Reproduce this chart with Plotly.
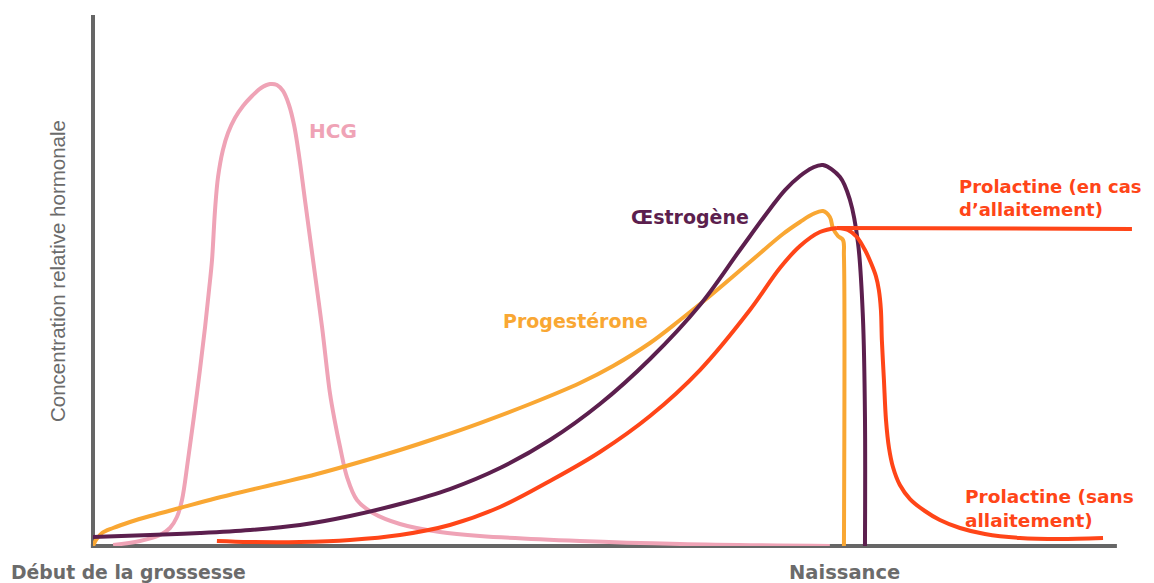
import plotly.graph_objects as go

# x: semaines de grossesse (naissance = 40), y: concentration relative (%)
hcg_x = [1.07, 2.50, 3.57, 4.10, 4.47, 4.74, 5.06, 5.54, 5.97, 6.18, 6.34, 6.50, 6.66, 6.92, 7.19, 7.56, 7.99,
         8.47, 8.95, 9.43, 9.80, 10.12, 10.44, 10.71, 10.97, 11.29, 11.72, 12.20, 12.62, 12.89, 13.16, 13.53,
         14.06, 14.91, 16.35, 18.48, 20.61, 25.94, 31.27, 39.25]
hcg_y = [0.19, 0.94, 2.07, 3.39, 5.46, 8.66, 16.20, 28.81, 41.24, 48.21, 53.86, 63.28, 69.49, 74.58, 77.78,
         80.60, 82.86, 84.75, 86.25, 87.00, 86.82, 85.69, 83.05, 79.28, 73.63, 65.16, 53.86, 41.24, 28.81,
         23.35, 18.64, 12.99, 8.66, 6.21, 4.14, 2.64, 1.88, 0.94, 0.38, 0.0]

prog_x = [0.0, 0.16, 0.48, 1.07, 1.97, 3.04, 4.63, 7.46, 9.96, 11.93, 14.22, 16.35, 18.48, 20.61, 23.28,
          25.94, 27.70, 29.67, 31.27, 32.86, 34.99, 36.75, 37.66, 38.35, 38.88, 39.25, 39.41, 39.68,
          39.95, 40.0, 40.0]
prog_y = [0.0, 1.13, 2.45, 3.39, 4.52, 5.65, 7.16, 9.79, 11.86, 13.56, 15.82, 18.08, 20.53, 23.16, 26.74,
          30.70, 33.90, 38.23, 42.56, 47.08, 53.48, 58.76, 61.02, 62.52, 63.09, 61.96, 59.89, 58.38,
          57.63, 54.61, 0.0]

oestro_x = [0.0, 3.04, 5.70, 8.36, 11.03, 13.69, 16.35, 19.01, 21.68, 24.34, 27.00, 29.67, 32.33, 34.46,
            36.06, 36.86, 37.66, 38.30, 38.88, 39.79, 40.32, 40.75, 41.01, 41.12, 41.12]
oestro_y = [1.69, 2.07, 2.45, 3.01, 3.95, 5.65, 7.91, 10.73, 14.69, 19.96, 26.74, 35.22, 45.39, 55.74,
            63.47, 67.04, 69.68, 71.19, 71.75, 69.49, 65.16, 57.06, 43.13, 24.29, 0.0]

prl_x = [6.60, 8.36, 11.03, 13.69, 16.35, 19.01, 21.68, 24.34, 27.00, 29.67, 32.33, 34.99, 36.59, 37.66,
         38.72, 39.63]
prl_y = [0.94, 0.75, 0.75, 1.13, 2.07, 3.95, 7.34, 12.24, 17.70, 24.48, 33.14, 44.44, 52.35, 56.50,
         59.13, 59.89]

prl_allait_x = [39.63, 55.34]
prl_allait_y = [59.89, 59.70]

prl_sans_x = [39.63, 40.21, 40.69, 41.12, 41.44, 41.70, 41.86, 41.97, 42.02, 42.13, 42.24, 42.40, 42.61,
              42.98, 43.52, 44.31, 45.11, 46.18, 47.51, 49.37, 51.50, 53.80]
prl_sans_y = [59.89, 59.51, 58.19, 55.74, 53.29, 50.85, 48.21, 44.44, 38.79, 31.26, 23.73, 18.46, 14.88,
              11.49, 8.85, 6.59, 4.90, 3.39, 2.26, 1.51, 1.32, 1.51]

PINK = "#EFA3B6"
ORANGE = "#F9A733"
PURPLE = "#5C1F4E"
RED = "#FF4518"
GRAY = "#666666"
TXT_GRAY = "#6B6B6B"

fig = go.Figure()

def add(x, y, color, smooth=1.0, shape="spline"):
    fig.add_trace(go.Scatter(x=x, y=y, mode="lines",
                             line=dict(color=color, width=4, shape=shape, smoothing=smooth),
                             hoverinfo="skip", showlegend=False))

add(hcg_x, hcg_y, PINK, 1.0)
add(prog_x, prog_y, ORANGE, 1.0)
add(oestro_x, oestro_y, PURPLE, 1.0)
add(prl_x, prl_y, RED, 1.0)
add(prl_allait_x, prl_allait_y, RED, shape="linear")
add(prl_sans_x, prl_sans_y, RED, 0.9)

XMAX = 55.77
X_AXIS_END = 54.54 / XMAX

# axis lines
fig.add_shape(type="line", xref="paper", yref="paper", x0=-0.002, x1=X_AXIS_END, y0=0, y1=0,
              line=dict(color=GRAY, width=4), layer="below")
fig.add_shape(type="line", xref="paper", yref="paper", x0=0, x1=0, y0=0, y1=1,
              line=dict(color=GRAY, width=4), layer="below")

BOLD = "DejaVu Sans, Verdana, sans-serif"

def ann(text, x, y, color, size=18, xanchor="center", align="center"):
    fig.add_annotation(x=x, y=y, xref="paper", yref="paper", text=text, showarrow=False,
                       xanchor=xanchor, yanchor="middle", align=align,
                       font=dict(family=BOLD, size=size, color=color))

ann("<b>HCG</b>", 0.2292, 0.7815, PINK, 20)
ann("<b>Œstrogène</b>", 0.5702, 0.6196, PURPLE, 19)
ann("<b>Progestérone</b>", 0.4604, 0.4237, ORANGE, 19)
ann("<b>Prolactine (en cas<br>d’allaitement)</b>", 0.8252, 0.6563, RED, 18, xanchor="left", align="left")
ann("<b>Prolactine (sans<br>allaitement)</b>", 0.8309, 0.0706, RED, 18.5, xanchor="left", align="left")
ann("<b>Début de la grossesse</b>", 0.0335, -0.0508, TXT_GRAY, 18.8)
ann("<b>Naissance</b>", 0.7173, -0.0508, TXT_GRAY, 19.5)

fig.add_annotation(x=-0.0334, y=0.5179, xref="paper", yref="paper", text="Concentration relative hormonale",
                   textangle=-90, showarrow=False, xanchor="center", yanchor="middle",
                   font=dict(family="Liberation Sans, Arial, sans-serif", size=20.5, color=TXT_GRAY))

fig.update_layout(
    width=1146, height=575,
    margin=dict(l=85, r=14, t=7, b=37),
    paper_bgcolor="white", plot_bgcolor="white",
    xaxis=dict(range=[0, XMAX], showgrid=False, zeroline=False, showticklabels=False,
               ticks="", showline=False, fixedrange=True),
    yaxis=dict(range=[0, 100], showgrid=False, zeroline=False, showticklabels=False,
               ticks="", showline=False, fixedrange=True),
)

fig.write_html("out.html")
